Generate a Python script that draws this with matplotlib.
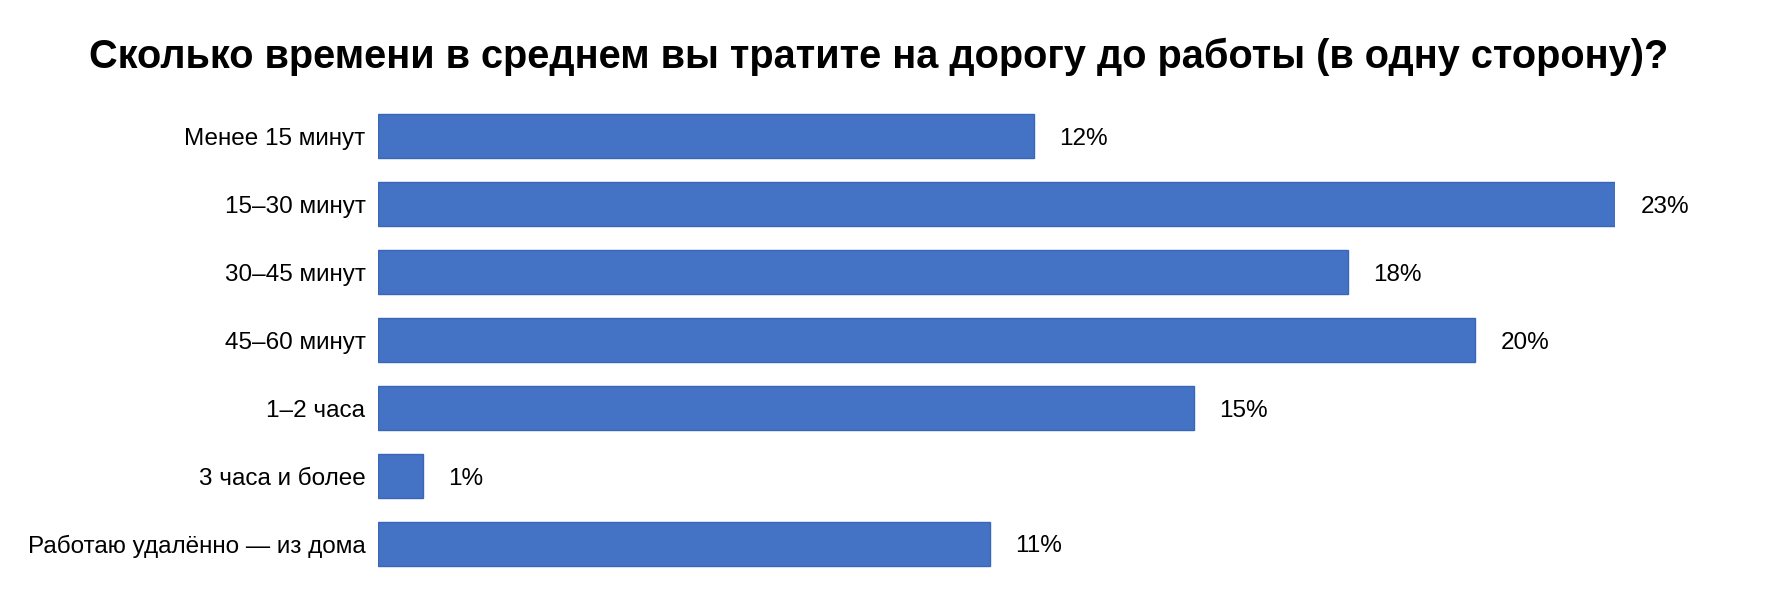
import matplotlib
matplotlib.use("Agg")
import matplotlib.pyplot as plt

categories = [
    "Менее 15 минут",
    "15–30 минут",
    "30–45 минут",
    "45–60 минут",
    "1–2 часа",
    "3 часа и более",
    "Работаю удалённо — из дома",
]
# unrounded shares; labels show the rounded figures
values = [12.07, 22.77, 17.85, 20.20, 15.02, 0.83, 11.26]
value_labels = ["12%", "23%", "18%", "20%", "15%", "1%", "11%"]

TITLE = "Сколько времени в среднем вы тратите на дорогу до работы (в одну сторону)?"
BAR_COLOR = "#4472C4"

plt.rcParams["font.family"] = ["Liberation Sans", "DejaVu Sans"]

W, H = 1766, 614
fig = plt.figure(figsize=(W / 100, H / 100), dpi=100)
fig.patch.set_facecolor("white")

# axes placed in pixel terms: left edge of bars, bar scale, row spacing
left, right = 378, 378 + 1237
top, bottom = 102, 578
ax = fig.add_axes([left / W, 1 - bottom / H, (right - left) / W, (bottom - top) / H])

ys = list(range(len(categories)))
ax.barh(ys, values, height=0.64, color=BAR_COLOR, edgecolor="#3A66B8",
        linewidth=1.0)
ax.set_xlim(0, max(values))
ax.set_ylim(len(categories) - 0.5, -0.5)

for y, v, lab in zip(ys, values, value_labels):
    ax.text(v + 0.47, y, lab, va="center_baseline", ha="left", fontsize=17.5,
            color="black", clip_on=False)

ax.set_yticks(ys)
ax.set_yticklabels(categories, fontsize=17.5, color="black")
ax.tick_params(axis="y", length=0, pad=9)
ax.set_xticks([])
for s in ax.spines.values():
    s.set_visible(False)

fig.text(0.5 - 4.5 / W, 1 - 57 / H, TITLE, ha="center", va="center",
         fontsize=28.6, fontweight="bold", color="black")

fig.savefig("out.png", dpi=100, facecolor="white")
